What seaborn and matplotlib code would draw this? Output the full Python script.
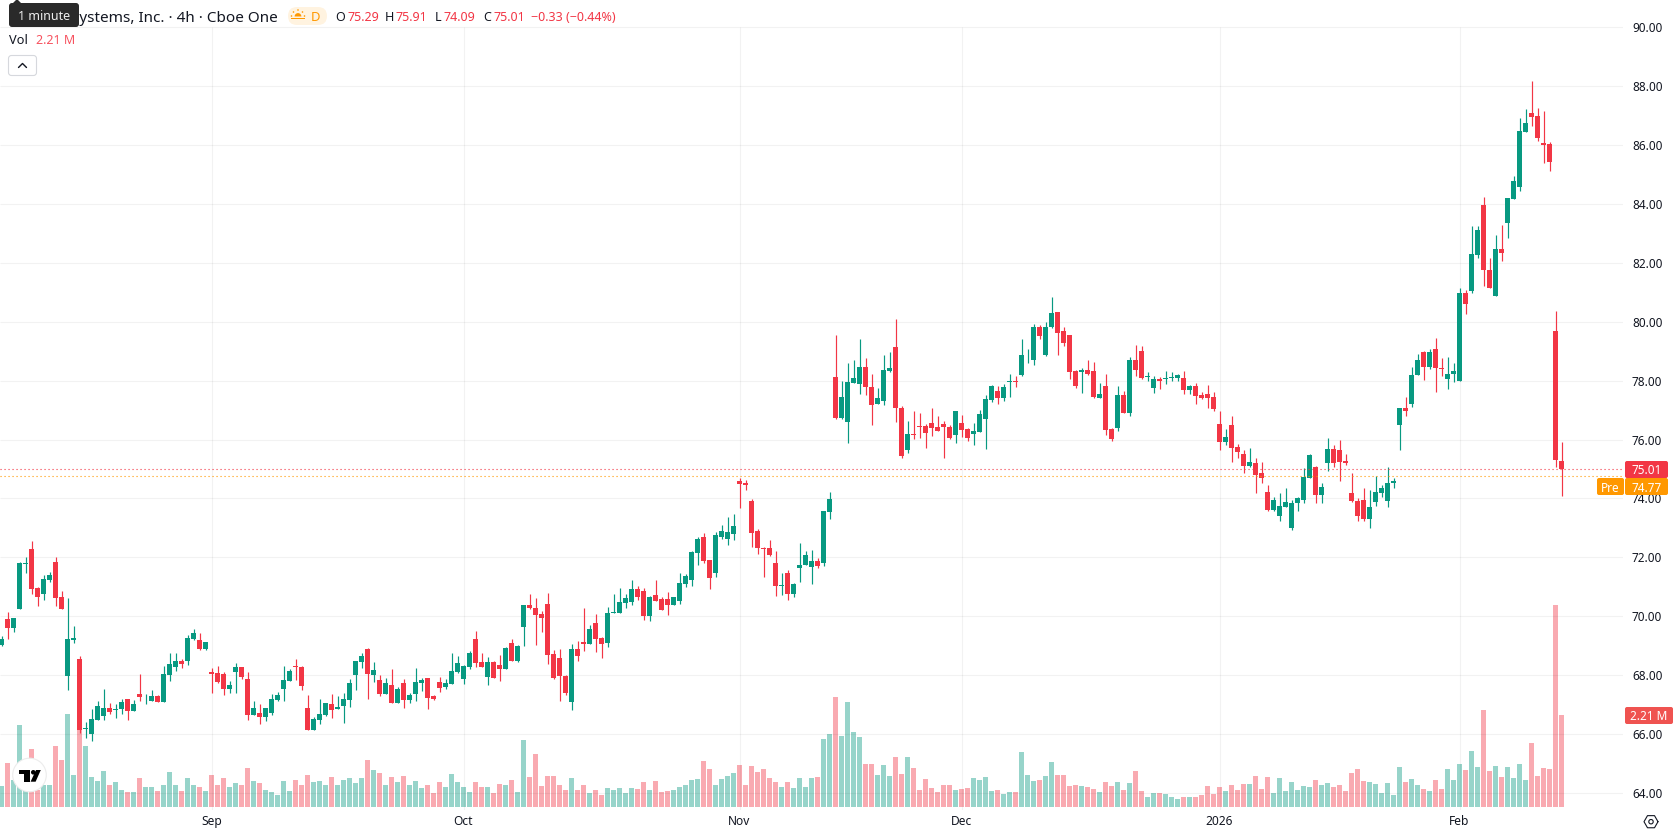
import numpy as np
import pandas as pd
import seaborn as sns
import matplotlib
matplotlib.use("Agg")
import matplotlib.pyplot as plt
from matplotlib.patches import FancyBboxPatch, Circle, Polygon, Rectangle, Wedge

# 4h candles, one row of numbers per block of the session history
opens = [
    69.02, 69.91, 69.60, 70.25, 71.78, 72.28, 70.96, 70.75, 71.22, 71.84, 70.65, 67.97, 69.19, 68.55, 66.18, 66.00,
    66.48, 66.61, 66.88, 66.83, 66.85, 67.19, 66.78, 67.36, 67.31, 67.12, 67.29, 67.09, 68.00, 68.28, 68.48, 68.48,
    69.23, 69.19, 68.89, 68.11, 68.07, 68.04, 67.53, 68.11, 68.28, 67.87, 66.65, 66.71, 66.58, 66.71, 67.16, 67.53,
    67.80, 68.31, 68.28, 66.88, 66.14, 66.48, 66.65, 67.02, 66.85, 66.95, 67.16, 68.00, 68.45, 68.89, 68.00, 67.83,
    67.36, 67.66, 67.05, 67.73, 67.16, 67.36, 67.74, 67.91, 67.30, 67.77, 67.60, 67.71, 68.11, 67.88, 68.28, 69.23,
    68.45, 67.94, 68.45, 68.35, 68.22, 69.10, 68.49, 69.64, 70.39, 70.29, 70.08, 70.42, 68.72, 68.59, 67.98, 67.09,
    68.89, 69.13, 69.06, 69.78, 69.27, 69.10, 70.12, 70.12, 70.46, 70.49, 70.93, 70.86, 70.01, 70.73, 70.59, 70.59,
    70.39, 70.52, 71.10, 71.24, 72.15, 72.70, 71.92, 71.47, 72.70, 72.63, 72.80, 74.60, 74.53, 73.92, 72.90, 72.32,
    72.32, 71.81, 71.03, 71.47, 70.76, 71.64, 71.75, 71.68, 71.88, 71.81, 73.55, 78.11, 76.72, 76.59, 77.91, 77.88,
    78.45, 77.77, 77.20, 77.30, 78.32, 79.13, 77.09, 75.63, 76.18, 76.45, 76.45, 76.55, 76.42, 76.52, 76.42, 76.14,
    76.55, 76.35, 76.18, 76.25, 76.69, 77.33, 77.64, 77.40, 77.94, 77.98, 78.18, 78.86, 78.72, 79.81, 78.86, 79.81,
    80.35, 79.68, 79.54, 78.32, 78.28, 78.38, 78.32, 77.40, 77.81, 76.35, 76.38, 77.50, 76.92, 78.72, 79.00, 78.11,
    77.74, 78.05, 78.05, 78.08, 78.08, 78.08, 77.67, 77.81, 77.50, 77.54, 77.43, 76.52, 75.91, 76.48, 75.76, 75.52,
    75.12, 75.19, 74.85, 74.23, 73.62, 73.42, 73.72, 73.01, 73.83, 73.96, 74.71, 75.08, 74.13, 75.19, 75.69, 75.63,
    75.29, 74.20, 73.93, 73.96, 73.32, 73.89, 74.20, 73.93, 74.51, 76.48, 77.09, 77.22, 78.21, 78.99, 78.48, 79.09,
    78.44, 78.07, 78.24, 78.00, 80.99, 81.03, 82.28, 83.98, 81.77, 80.86, 82.49, 83.37, 84.18, 84.59, 86.46, 87.10,
    87.00, 86.08, 86.05, 79.70, 75.29,
]
highs = [
    69.33, 70.14, 69.94, 71.84, 72.01, 72.55, 70.99, 71.40, 71.50, 72.01, 70.86, 70.62, 69.67, 68.65, 66.41, 66.85,
    67.12, 67.53, 67.05, 67.02, 67.19, 67.19, 67.16, 68.04, 67.36, 67.50, 67.33, 68.31, 68.75, 68.75, 68.55, 69.36,
    69.57, 69.43, 69.12, 68.24, 68.31, 68.11, 67.80, 68.41, 68.28, 68.11, 67.12, 67.02, 66.88, 67.36, 67.43, 68.31,
    68.21, 68.55, 68.31, 67.33, 66.58, 67.19, 67.05, 67.36, 67.29, 67.39, 67.87, 68.48, 68.75, 68.92, 68.45, 68.00,
    67.90, 68.21, 67.60, 67.87, 67.39, 68.24, 67.91, 67.91, 67.33, 67.94, 67.88, 68.76, 68.66, 68.35, 68.83, 69.51,
    68.76, 68.62, 68.49, 68.69, 68.96, 69.23, 69.03, 70.39, 70.76, 70.63, 70.18, 70.80, 68.86, 68.89, 68.01, 69.06,
    69.17, 70.29, 69.71, 70.08, 69.30, 70.32, 70.76, 70.97, 70.76, 71.24, 71.03, 70.97, 70.69, 71.24, 70.66, 70.83,
    70.66, 71.47, 71.44, 72.22, 72.70, 72.83, 71.92, 72.87, 73.10, 73.38, 73.48, 74.70, 74.63, 73.99, 72.97, 72.36,
    72.60, 72.22, 71.47, 71.58, 71.14, 72.49, 72.22, 72.26, 71.98, 73.58, 74.22, 79.54, 77.98, 78.59, 78.69, 79.40,
    78.76, 78.22, 77.74, 78.86, 78.96, 80.08, 77.13, 76.62, 76.96, 76.89, 76.52, 77.09, 76.79, 76.62, 76.48, 76.96,
    76.82, 76.38, 76.55, 76.99, 77.50, 77.84, 77.81, 77.88, 78.22, 78.15, 79.40, 79.06, 79.91, 79.88, 79.98, 80.83,
    80.35, 79.81, 79.54, 78.38, 78.42, 78.72, 78.62, 77.91, 78.22, 76.38, 77.81, 77.64, 78.79, 79.20, 79.17, 78.28,
    78.15, 78.11, 78.32, 78.28, 78.22, 78.32, 77.84, 77.91, 77.60, 77.84, 77.60, 76.96, 76.35, 76.79, 75.86, 75.66,
    75.73, 75.39, 75.25, 74.47, 74.06, 74.20, 74.34, 73.96, 74.06, 75.05, 75.52, 75.12, 74.51, 76.07, 75.83, 76.00,
    75.52, 74.88, 74.03, 74.37, 74.30, 74.78, 74.47, 75.08, 74.71, 77.09, 77.43, 78.48, 78.92, 79.02, 79.06, 79.46,
    78.78, 78.82, 78.61, 81.16, 81.09, 83.27, 83.27, 84.25, 82.18, 82.96, 83.30, 84.22, 84.96, 86.93, 87.24, 88.19,
    87.27, 87.17, 86.12, 80.38, 75.91,
]
lows = [
    68.99, 69.23, 69.47, 70.25, 71.47, 70.75, 70.35, 70.55, 71.16, 70.35, 70.25, 67.50, 69.09, 66.04, 65.87, 65.76,
    66.48, 66.48, 66.68, 66.54, 66.68, 66.48, 66.78, 67.12, 67.02, 67.12, 67.09, 67.09, 67.80, 68.14, 68.24, 68.34,
    69.19, 68.85, 68.85, 67.39, 67.73, 67.33, 67.39, 67.39, 67.87, 66.48, 66.65, 66.34, 66.44, 66.65, 67.12, 67.12,
    67.80, 67.83, 67.50, 66.14, 66.14, 66.34, 66.61, 66.54, 66.85, 66.37, 66.92, 67.50, 68.24, 67.19, 67.77, 67.29,
    67.36, 67.05, 67.05, 66.88, 67.05, 67.12, 67.47, 66.86, 67.16, 67.43, 67.54, 67.71, 68.08, 67.71, 68.22, 68.28,
    68.28, 67.67, 67.91, 67.81, 68.22, 68.49, 68.45, 69.00, 70.25, 69.03, 69.47, 68.38, 67.88, 67.13, 67.33, 66.82,
    68.49, 68.83, 69.06, 68.79, 68.59, 68.96, 70.12, 70.12, 70.29, 70.39, 70.56, 69.88, 69.84, 70.52, 70.22, 70.05,
    70.39, 70.42, 71.00, 71.03, 71.75, 71.81, 70.93, 71.34, 72.63, 72.43, 72.60, 73.68, 74.29, 72.36, 72.12, 71.34,
    72.05, 70.69, 70.73, 70.56, 70.66, 71.17, 71.75, 71.10, 71.64, 71.71, 73.31, 76.69, 76.69, 75.87, 77.91, 77.54,
    77.50, 76.48, 77.20, 77.16, 78.28, 76.59, 75.36, 75.53, 76.01, 76.04, 75.70, 76.11, 76.28, 75.36, 76.01, 75.87,
    76.08, 75.94, 75.80, 76.25, 75.67, 77.26, 77.20, 77.30, 77.43, 77.77, 78.15, 78.59, 78.55, 79.40, 78.83, 79.78,
    78.86, 79.17, 78.05, 77.74, 77.57, 78.18, 77.40, 77.40, 76.14, 75.94, 76.28, 76.92, 76.79, 78.15, 78.05, 77.98,
    77.57, 77.71, 77.88, 77.98, 77.98, 77.54, 77.54, 77.20, 77.37, 77.06, 76.96, 75.63, 75.80, 75.23, 75.39, 74.85,
    75.08, 74.20, 74.51, 73.56, 73.59, 73.25, 73.72, 72.94, 73.56, 73.86, 74.71, 73.86, 73.83, 74.95, 75.08, 74.61,
    75.15, 73.89, 73.22, 73.22, 73.01, 73.76, 74.06, 73.72, 74.37, 75.66, 76.81, 77.12, 78.21, 78.04, 78.41, 77.63,
    78.17, 77.73, 77.97, 78.00, 80.28, 80.99, 82.18, 81.20, 81.16, 80.86, 82.08, 82.83, 84.18, 84.45, 86.46, 86.66,
    86.15, 85.41, 85.13, 75.08, 74.09,
]
closes = [
    69.23, 69.60, 69.94, 71.81, 71.80, 70.92, 70.65, 71.26, 71.40, 70.62, 70.25, 69.23, 69.26, 66.14, 66.20, 66.51,
    66.95, 66.88, 66.75, 66.85, 67.09, 66.78, 67.02, 67.26, 67.34, 67.29, 67.09, 68.04, 68.38, 68.48, 68.38, 69.26,
    69.43, 68.89, 69.12, 68.04, 67.77, 67.53, 67.66, 68.28, 67.94, 66.65, 66.88, 66.58, 66.88, 67.19, 67.33, 67.83,
    68.14, 68.29, 67.63, 66.14, 66.51, 66.68, 67.05, 66.82, 66.92, 67.19, 67.73, 68.48, 68.65, 68.04, 68.17, 67.36,
    67.73, 67.05, 67.53, 67.16, 67.33, 67.77, 67.84, 67.23, 67.20, 67.57, 67.74, 68.15, 68.42, 68.32, 68.76, 68.42,
    68.28, 68.45, 67.91, 68.22, 68.93, 68.49, 69.00, 70.39, 70.29, 70.05, 69.95, 68.69, 67.91, 67.98, 67.40, 68.89,
    68.66, 69.06, 69.57, 69.23, 69.06, 70.12, 70.15, 70.49, 70.63, 70.93, 70.66, 70.01, 70.66, 70.52, 70.22, 70.39,
    70.66, 71.14, 71.37, 72.19, 72.63, 71.88, 71.30, 72.77, 72.90, 72.87, 73.07, 74.50, 74.46, 72.83, 72.32, 72.29,
    72.09, 71.03, 71.07, 70.76, 71.10, 71.75, 72.09, 71.88, 71.71, 73.58, 73.99, 76.72, 77.43, 77.94, 78.08, 78.45,
    77.77, 77.16, 77.40, 78.35, 78.42, 77.06, 75.43, 76.18, 76.14, 76.42, 76.21, 76.38, 76.28, 76.42, 76.04, 76.96,
    76.31, 76.04, 76.28, 76.86, 77.37, 77.81, 77.40, 77.77, 77.98, 77.94, 78.89, 78.89, 79.84, 79.51, 79.84, 80.29,
    79.61, 79.27, 78.28, 77.81, 78.38, 78.22, 77.43, 77.54, 76.31, 76.01, 77.50, 76.92, 78.72, 78.38, 78.08, 78.15,
    78.05, 77.98, 78.08, 78.11, 78.18, 77.67, 77.81, 77.47, 77.40, 77.40, 77.03, 75.91, 76.08, 75.70, 75.59, 75.12,
    75.25, 74.81, 74.71, 73.62, 73.96, 73.76, 73.89, 73.86, 74.00, 74.74, 75.49, 74.13, 74.40, 75.69, 75.22, 75.25,
    75.19, 73.93, 73.39, 73.32, 73.72, 74.23, 74.34, 74.54, 74.61, 77.09, 76.98, 78.21, 78.72, 78.48, 78.99, 78.44,
    78.41, 78.24, 78.34, 80.99, 80.62, 82.32, 83.13, 81.77, 81.16, 82.49, 82.35, 84.22, 84.79, 86.49, 86.76, 86.97,
    86.25, 86.02, 85.44, 75.32, 75.01,
]
# Volume in millions of shares
volumes = [
    0.50, 1.05, 0.64, 1.96, 0.55, 1.39, 0.40, 0.54, 0.54, 1.46, 1.14, 2.23, 0.78, 1.84, 1.46, 0.71,
    0.62, 0.86, 0.54, 0.59, 0.42, 0.35, 0.35, 0.69, 0.47, 0.47, 0.38, 0.54, 0.83, 0.54, 0.38, 0.69,
    0.54, 0.47, 0.38, 0.78, 0.54, 0.69, 0.47, 0.57, 0.52, 0.93, 0.62, 0.57, 0.42, 0.35, 0.30, 0.62,
    0.38, 0.64, 0.54, 0.78, 0.59, 0.62, 0.54, 0.71, 0.52, 0.66, 0.69, 0.57, 0.69, 1.14, 0.90, 0.81,
    0.54, 0.71, 0.59, 0.74, 0.53, 0.62, 0.46, 0.53, 0.34, 0.60, 0.48, 0.79, 0.60, 0.48, 0.36, 0.60,
    0.48, 0.48, 0.34, 0.55, 0.53, 0.65, 0.36, 1.61, 0.72, 1.27, 0.50, 0.74, 0.74, 0.53, 0.41, 0.70,
    0.41, 0.53, 0.34, 0.41, 0.29, 0.46, 0.41, 0.46, 0.34, 0.46, 0.43, 0.60, 0.41, 0.62, 0.36, 0.38,
    0.41, 0.48, 0.53, 0.65, 0.67, 1.10, 0.91, 0.53, 0.67, 0.74, 0.82, 1.01, 0.53, 0.98, 0.84, 0.91,
    0.70, 0.60, 0.48, 0.60, 0.46, 0.70, 0.48, 0.70, 0.72, 1.63, 1.75, 2.64, 1.71, 2.52, 1.80, 1.68,
    1.03, 1.03, 0.77, 1.01, 0.74, 1.20, 0.79, 1.20, 0.94, 0.41, 0.67, 0.46, 0.36, 0.53, 0.53, 0.41,
    0.43, 0.46, 0.70, 0.65, 0.72, 0.38, 0.41, 0.31, 0.36, 0.36, 1.32, 0.77, 0.62, 0.65, 0.74, 1.08,
    0.77, 0.77, 0.50, 0.53, 0.50, 0.48, 0.43, 0.36, 0.60, 0.50, 0.60, 0.41, 0.58, 0.86, 0.38, 0.24,
    0.34, 0.34, 0.31, 0.24, 0.19, 0.24, 0.24, 0.24, 0.29, 0.50, 0.31, 0.48, 0.38, 0.53, 0.41, 0.55,
    0.55, 0.74, 0.43, 0.72, 0.34, 0.70, 0.38, 0.60, 0.41, 0.50, 0.48, 0.65, 0.53, 0.58, 0.48, 0.53,
    0.38, 0.82, 0.91, 0.62, 0.60, 0.55, 0.34, 0.58, 0.29, 0.96, 0.60, 0.67, 0.53, 0.43, 0.38, 0.65,
    0.43, 0.91, 0.65, 1.03, 0.89, 1.35, 0.96, 2.33, 0.86, 0.98, 0.72, 0.96, 0.70, 1.03, 0.65, 1.54,
    0.74, 0.94, 0.91, 4.85, 2.21,
]

price_ticks = list(range(64, 92, 2))
month_bars = [35, 77, 123, 160, 203, 243]
month_labels = ["Sep", "Oct", "Nov", "Dec", "2026", "Feb"]
last_price = 75.01
premarket_price = 74.77

GREEN = "#089981"
RED = "#F23645"
ORANGE = "#FF9800"
INK = "#131722"
GRID = (0, 0, 0, 0.05)

W, H = 1678, 835
PANE_R, PANE_B = 1623, 810

sns.set_theme(style="white")
plt.rcParams["font.family"] = ["Noto Sans", "DejaVu Sans"]


def fs(px):
    return px * 0.72


df = pd.DataFrame({"bar": np.arange(len(opens)), "open": opens, "high": highs,
                   "low": lows, "close": closes, "volume": volumes})
df["dir"] = np.where(df["close"] >= df["open"], "up", "down")
df["top"] = df[["open", "close"]].max(axis=1)
df["bottom"] = df[["open", "close"]].min(axis=1)

fig = plt.figure(figsize=(W / 100, H / 100), dpi=100, facecolor="white")
rect = [0, (H - PANE_B) / H, PANE_R / W, PANE_B / H]

# Volume pane sits behind the price pane and shares its horizontal scale
vol_ax = fig.add_axes(rect, zorder=1)
ax = fig.add_axes(rect, zorder=2, sharex=vol_ax)
ax.patch.set_visible(False)

sns.barplot(data=df, x="bar", y="volume", hue="dir", hue_order=["up", "down"],
            palette={"up": GREEN, "down": RED}, native_scale=True, dodge=False,
            width=5 / 6, saturation=1, alpha=0.42, linewidth=0, legend=False, ax=vol_ax)
vol_ax.set_ylim(-0.072, 19.385)
vol_ax.axis("off")

# Price scale grid
ax.set_ylim(63.42, 90.93)
ax.set_xlim(-0.25, (PANE_R - 1.5) / 6)
ax.hlines(price_ticks, -0.25, (PANE_R - 1.5) / 6, color=GRID, lw=0.8, zorder=0)
ax.vlines(month_bars, 63.42, 90, color=GRID, lw=0.8, zorder=0)

# Candles: wicks first, bodies on top
colors = df["dir"].map({"up": GREEN, "down": RED})
ax.vlines(df["bar"], df["low"], df["high"], color=colors, lw=0.85, zorder=2)
ax.bar(df["bar"], df["top"] - df["bottom"], bottom=df["bottom"], width=5 / 6,
       color=colors, linewidth=0, zorder=3)

# Last and pre-market price lines
ax.axhline(last_price, color=RED, lw=0.8, ls=(0, (1, 2.6)), zorder=4)
ax.axhline(premarket_price, color=ORANGE, lw=0.8, ls=(0, (1, 2.6)), zorder=4)

ax.yaxis.tick_right()
ax.set_yticks(price_ticks)
ax.set_yticklabels([f"{p:.2f}" for p in price_ticks])
ax.set_xticks(month_bars)
ax.set_xticklabels(month_labels)
ax.tick_params(axis="y", length=0, pad=6.4, labelsize=fs(11.8), labelcolor=INK)
ax.tick_params(axis="x", length=0, pad=3.6, labelsize=fs(12), labelcolor=INK)
ax.get_xticklabels()[4].set_fontweight("bold")
ax.set_xlabel("")
ax.set_ylabel("")
for spine in ax.spines.values():
    spine.set_visible(False)

# Overlay in screen pixels for the terminal's labels and controls
ui = fig.add_axes([0, 0, 1, 1], zorder=5)
ui.set_xlim(0, W)
ui.set_ylim(H, 0)
ui.axis("off")


def label(x, y, s, color=INK, size=13, ha="left", **kw):
    ui.text(x, y, s, color=color, fontsize=fs(size), ha=ha, va="center_baseline", **kw)


def pill(x0, y0, w, h, color, r=2, ec="none", lw=0, z=3):
    ui.add_patch(FancyBboxPatch((x0 + r, y0 + r), w - 2 * r, h - 2 * r,
                                boxstyle=f"round,pad={r},rounding_size={r}",
                                fc=color, ec=ec, lw=lw, zorder=z))


# Legend row
label(278, 16, "Systems, Inc. · 4h · Cboe One", size=15.3, ha="right")
pill(288, 7, 39, 18, "#FFF3E0", r=9)
ui.add_patch(Wedge((298, 16.5), 3.4, 180, 360, fc=ORANGE, ec="none", zorder=4))
for dx, dy in [(-6.5, 0), (6.5, 0), (-4.5, -4), (4.5, -4), (0, -6)]:
    ui.add_patch(Circle((298 + dx, 16 + dy), 0.8, fc=ORANGE, ec="none", zorder=4))
ui.add_patch(Rectangle((291, 17.5), 14, 1, fc=ORANGE, ec="none", zorder=4))
label(315.5, 16, "D", color=ORANGE, size=13, ha="center", fontweight="medium", zorder=4)

ohlc_row = [(335, "O"), (347, "75.29"), (385, "H"), (396, "75.91"), (435, "L"), (444, "74.09"),
            (483, "C"), (493, "75.01"), (531, "−0.33 (−0.44%)")]
for x, s in ohlc_row:
    label(x, 16, s, color=INK if s in "OHLC" else RED, size=12.5)

label(9, 39.5, "Vol", size=12.8)
label(36, 39.5, "2.21 M", color="#F7525F", size=12.4)

# Collapse button
pill(8.5, 55.5, 28, 20, "white", r=3, ec="#D6D8DD", lw=0.8)
ui.plot([18.5, 22.5, 26.5], [67.5, 63.5, 67.5], color=INK, lw=1.0, zorder=4)

# Tooltip over the symbol title
ui.add_patch(Polygon([(11, 5), (17, -1), (23, 5)], fc="#2A2A2A", ec="none", zorder=6))
pill(9, 3, 70, 24, "#2A2A2A", r=3, z=6)
label(44, 15.5, "1 minute", color="#EDEDED", size=12.5, ha="center", zorder=7)

# Price-scale badges
pill(1625, 461, 43, 17, RED, r=2)
label(1646.5, 469.5, "75.01", color="white", size=11.8, ha="center", zorder=4)
pill(1597, 478, 27, 17, ORANGE, r=2)
label(1610.5, 486.5, "Pre", color="white", size=11.8, ha="center", zorder=4)
pill(1625, 478, 43, 17, ORANGE, r=2)
label(1646.5, 486.5, "74.77", color="white", size=11.8, ha="center", zorder=4)
pill(1625, 707, 48, 17, "#EF5350", r=2)
label(1649, 715.5, "2.21 M", color="white", size=11.8, ha="center", zorder=4)

# Chart logo
ui.add_patch(Circle((29.5, 775), 16.8, fc="white", ec="#ECECEC", lw=0.8, zorder=3))
ui.add_patch(Polygon([(19, 770), (30, 770), (30, 781.7), (23.7, 781.7), (23.7, 774.2), (19, 774.2)],
                     fc="black", ec="none", zorder=4))
ui.add_patch(Circle((33.3, 772.3), 2.3, fc="black", ec="none", zorder=4))
ui.add_patch(Polygon([(36, 770), (40.8, 770), (35.6, 781.7), (30.6, 781.7)], fc="black", ec="none", zorder=4))

# Scale settings icon
angles = np.deg2rad([0, 60, 120, 180, 240, 300, 360])
ui.plot(1651 + 7 * np.cos(angles), 821.7 + 7 * np.sin(angles), color=INK, lw=0.8, zorder=4)
ui.add_patch(Circle((1651, 821.7), 2.2, fc="none", ec=INK, lw=0.8, zorder=4))

fig.savefig("out.png", dpi=100, facecolor="white")
